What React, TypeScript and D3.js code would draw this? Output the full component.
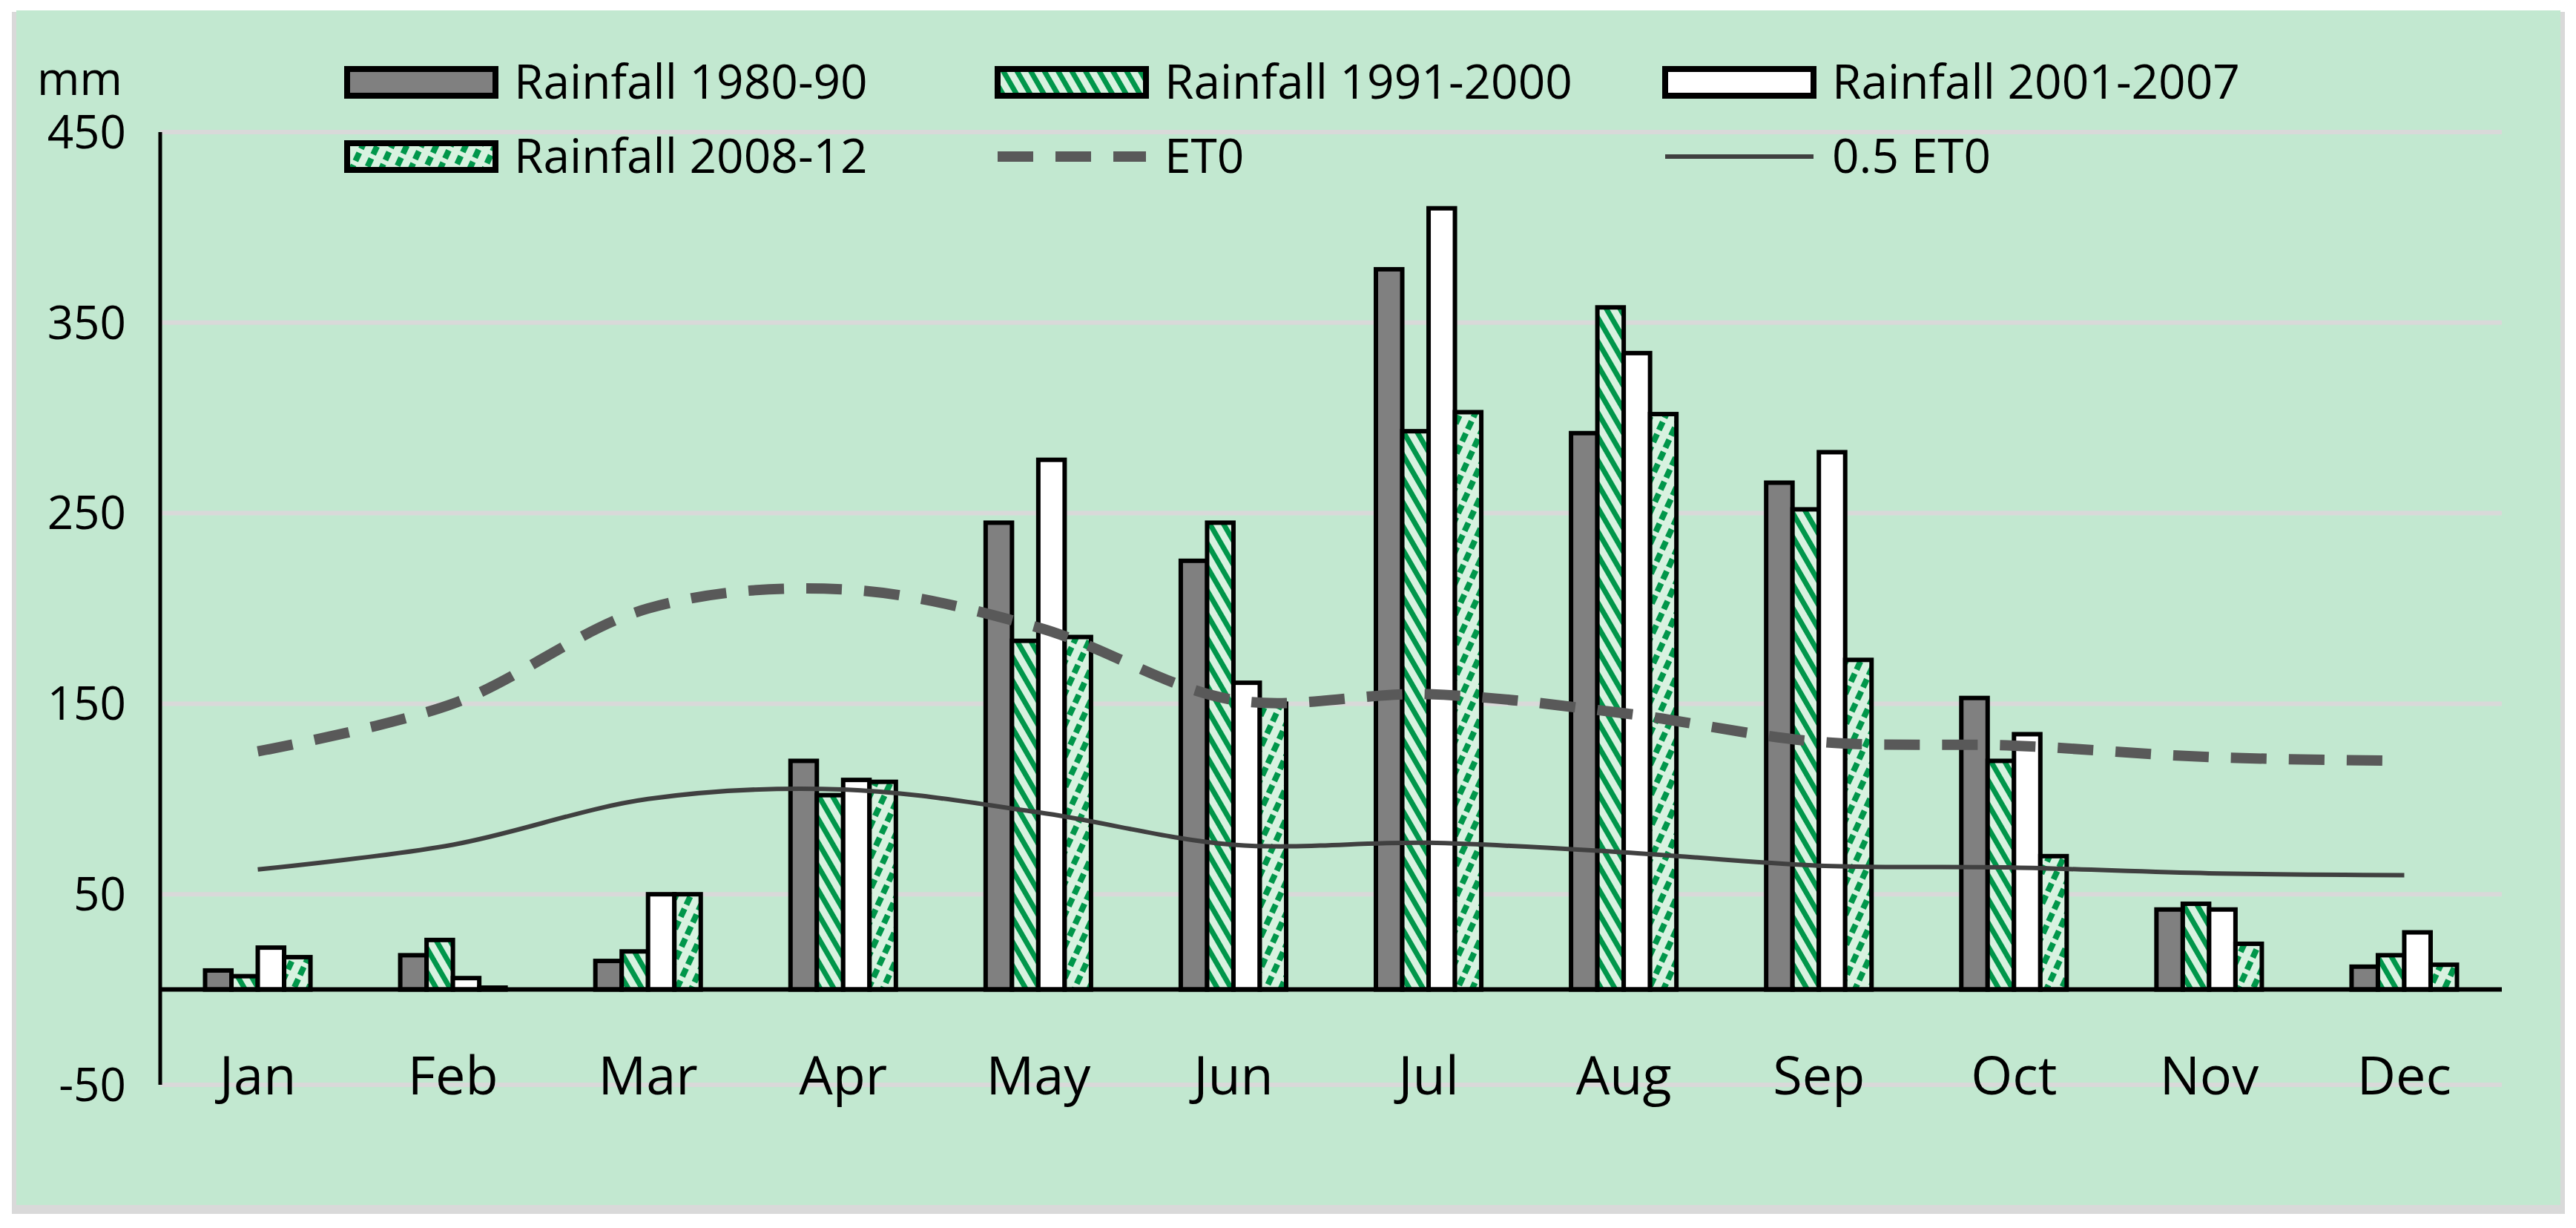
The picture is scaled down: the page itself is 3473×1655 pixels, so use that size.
import * as d3 from 'd3'

const W = 3473, H = 1655
const months = ['Jan', 'Feb', 'Mar', 'Apr', 'May', 'Jun', 'Jul', 'Aug', 'Sep', 'Oct', 'Nov', 'Dec']
const r1980 = [10, 18, 15, 120, 245, 225, 378, 292, 266, 153, 42, 12]
const r1991 = [7, 26, 20, 102, 183, 245, 293, 358, 252, 120, 45, 18]
const r2001 = [22, 6, 50, 110, 278, 161, 410, 334, 282, 134, 42, 30]
const r2008 = [17, 1, 50, 109, 185, 150, 303, 302, 173, 70, 24, 13]
const et0 = [125, 150, 200, 210, 190, 152, 155, 145, 130, 128, 122, 120]
const halfEt0 = [63, 76, 100, 105, 93, 76, 77, 72, 65, 64, 61, 60]
const yTicks = [-50, 50, 150, 250, 350, 450]

const series = [
  { name: 'Rainfall 1980-90', values: r1980, fill: '#808080' },
  { name: 'Rainfall 1991-2000', values: r1991, fill: 'url(#pA)' },
  { name: 'Rainfall 2001-2007', values: r2001, fill: '#ffffff' },
  { name: 'Rainfall 2008-12', values: r2008, fill: 'url(#pB)' },
]

const L = 216, R = 3373, T = 178, B = 1462
const font = "'Liberation Sans Narrow', 'Open Sans', sans-serif"

export default function App() {
  const x = d3.scaleBand<string>().domain(months).range([L, R]).paddingInner(0.46).paddingOuter(0.23)
  const inner = d3.scaleBand<number>().domain([0, 1, 2, 3]).range([0, x.bandwidth()])
  const y = d3.scaleLinear().domain([-50, 450]).range([B, T])
  const line = d3.line<number>()
    .x((_, i) => x(months[i])! + x.bandwidth() / 2)
    .y(d => y(d))
    .curve(d3.curveCatmullRom)

  const legendCols = [468, 1345, 2245]
  const legendRows = [111, 211]

  return (
    <svg width={W} height={H} style={{ position: 'absolute', left: 0, top: 0 }} fontFamily={font}>
      <defs>
        <pattern id="pA" width="16" height="16" patternUnits="userSpaceOnUse" patternTransform="rotate(-30)">
          <rect width="16" height="16" fill="#d8f2e0" />
          <rect width="7" height="16" fill="#00964a" />
        </pattern>
        <pattern id="pB" width="18" height="18" patternUnits="userSpaceOnUse" patternTransform="rotate(25)">
          <rect width="18" height="18" fill="#d8f2e0" />
          <rect width="8" height="12" fill="#00964a" />
        </pattern>
      </defs>
      <rect x={0} y={0} width={W} height={H} fill="#fff" />
      <rect x={16} y={16} width={3442} height={1620} fill="#d9d9d9" />
      <rect x={22} y={14} width={3430} height={1610} fill="#c2e8d0" />

      {yTicks.map(t => (
        <g key={t}>
          <line x1={L} x2={R} y1={y(t)} y2={y(t)} stroke="#d9d9d9" strokeWidth={6} />
          <text x={170} y={y(t)} dy="0.35em" textAnchor="end" fontSize={62}>{t}</text>
        </g>
      ))}
      <text x={50} y={128} fontSize={62}>mm</text>

      {months.map(m => (
        <text key={m} x={x(m)! + x.bandwidth() / 2} y={1475} textAnchor="middle" fontSize={72}>{m}</text>
      ))}

      {series.map((s, si) => s.values.map((v, i) => (
        <rect key={si + '-' + i} x={x(months[i])! + inner(si)!} y={y(v)} width={inner.bandwidth()}
          height={y(0) - y(v)} fill={s.fill} stroke="#000" strokeWidth={6} />
      )))}

      <line x1={L} x2={R} y1={y(0)} y2={y(0)} stroke="#000" strokeWidth={6} />
      <line x1={L} x2={L} y1={T} y2={B} stroke="#000" strokeWidth={5} />

      <path d={line(et0)!} fill="none" stroke="#595959" strokeWidth={14} strokeDasharray="48 30" />
      <path d={line(halfEt0)!} fill="none" stroke="#404040" strokeWidth={6} />

      {series.map((s, si) => {
        const cx = legendCols[si % 3], cy = legendRows[Math.floor(si / 3)]
        return (
          <g key={s.name}>
            <rect x={cx} y={cy - 18} width={200} height={36} fill={s.fill} stroke="#000" strokeWidth={8} />
            <text x={cx + 225} y={cy} dy="0.35em" fontSize={64}>{s.name}</text>
          </g>
        )
      })}
      <line x1={legendCols[1]} x2={legendCols[1] + 200} y1={legendRows[1]} y2={legendRows[1]} stroke="#595959" strokeWidth={14} strokeDasharray="48 30" />
      <text x={legendCols[1] + 225} y={legendRows[1]} dy="0.35em" fontSize={64}>ET0</text>
      <line x1={legendCols[2]} x2={legendCols[2] + 200} y1={legendRows[1]} y2={legendRows[1]} stroke="#404040" strokeWidth={6} />
      <text x={legendCols[2] + 225} y={legendRows[1]} dy="0.35em" fontSize={64}>0.5 ET0</text>
    </svg>
  )
}
